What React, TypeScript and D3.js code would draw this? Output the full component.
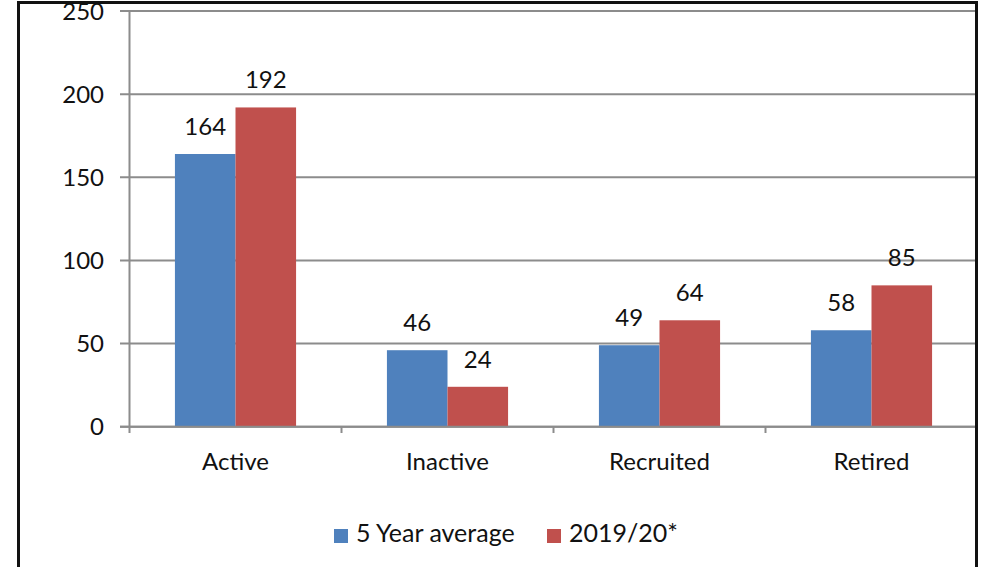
import React from "react";
import * as d3 from "d3";

const categories = ["Active", "Inactive", "Recruited", "Retired"];
const seriesNames = ["5 Year average", "2019/20*"];
const fiveYearAverage = [164, 46, 49, 58];
const year2019_20 = [192, 24, 64, 85];
const yTicks = [0, 50, 100, 150, 200, 250];
const colors = ["#4F81BD", "#C0504D"];

const W = 986;
const H = 567;
const FONT = "Lato, 'Open Sans', sans-serif";
const FS = 24;

export default function App() {
  const x0 = d3.scaleBand<string>().domain(categories).range([129.5, 977.5]).padding(0);
  const x1 = d3
    .scaleBand<string>()
    .domain(seriesNames)
    .range([0, x0.bandwidth()])
    .paddingInner(0)
    .paddingOuter(0.75);
  const y = d3.scaleLinear().domain([0, 250]).range([426.7, 11]);
  const series = [fiveYearAverage, year2019_20];
  const textColor = "#111";
  const gridColor = "#8c8c8c";

  return (
    <svg
      width={W}
      height={H}
      style={{ position: "absolute", left: 0, top: 0, background: "#fff" }}
      fontFamily={FONT}
    >
      {/* gridlines */}
      {yTicks.map((t) => (
        <g key={t}>
          <line x1={120} x2={977.5} y1={y(t)} y2={y(t)} stroke={gridColor} strokeWidth={2} />
          <text
            x={104}
            y={y(t)}
            dy="0.36em"
            textAnchor="end"
            fontSize={FS}
            fill={textColor}
          >
            {t}
          </text>
        </g>
      ))}
      {/* bars */}
      {categories.map((c, ci) => (
        <g key={c} transform={`translate(${x0(c)},0)`}>
          {series.map((s, si) => (
            <g key={si}>
              <rect
                x={x1(seriesNames[si])}
                y={y(s[ci])}
                width={x1.bandwidth()}
                height={y(0) - y(s[ci])}
                fill={colors[si]}
              />
              <text
                x={(x1(seriesNames[si]) as number) + x1.bandwidth() / 2}
                y={y(s[ci]) - 19}
                textAnchor="middle"
                fontSize={FS}
                fill={textColor}
              >
                {s[ci]}
              </text>
            </g>
          ))}
          <text
            x={x0.bandwidth() / 2}
            y={470}
            textAnchor="middle"
            fontSize={FS}
            fill={textColor}
          >
            {c}
          </text>
        </g>
      ))}
      {/* axes */}
      <line x1={129.5} x2={129.5} y1={11} y2={433} stroke={gridColor} strokeWidth={2} />
      <line x1={120} x2={977.5} y1={y(0)} y2={y(0)} stroke={gridColor} strokeWidth={2} />
      {categories.map((c, i) =>
        i === 0 ? null : (
          <line
            key={c}
            x1={x0(c)}
            x2={x0(c)}
            y1={y(0)}
            y2={433}
            stroke={gridColor}
            strokeWidth={2}
          />
        )
      )}
      {/* legend */}
      {seriesNames.map((n, i) => {
        const lx = [334, 547][i];
        return (
          <g key={n}>
            <rect x={lx} y={529} width={14} height={14} fill={colors[i]} />
            <text x={lx + 22} y={542} fontSize={FS + 1} fill={textColor}>
              {n}
            </text>
          </g>
        );
      })}
      {/* border */}
      <path d="M18.5,600 V2.5 H976.5 V600" fill="none" stroke="#111" strokeWidth={3} />
    </svg>
  );
}
